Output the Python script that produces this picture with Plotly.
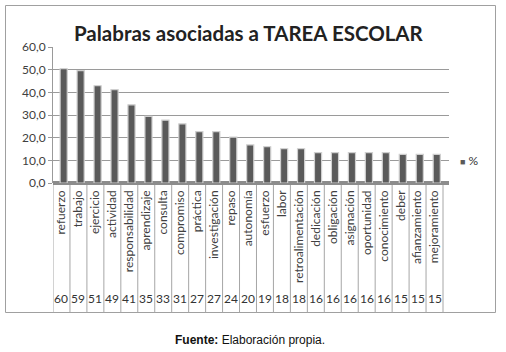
import plotly.graph_objects as go

categories = ["refuerzo", "trabajo", "ejercicio", "actividad", "responsabilidad",
              "aprendizaje", "consulta", "compromiso", "práctica", "investigación",
              "repaso", "autonomía", "esfuerzo", "labor", "retroalimentación",
              "dedicación", "obligación", "asignación", "oportunidad", "conocimiento",
              "deber", "afianzamiento", "mejoramiento"]
percent = [50.4, 49.6, 42.9, 41.2, 34.5, 29.4, 27.7, 26.1, 22.7, 22.7, 20.2, 16.8,
           16.0, 15.1, 15.1, 13.4, 13.4, 13.4, 13.4, 13.4, 12.6, 12.6, 12.6]
counts = [60, 59, 51, 49, 41, 35, 33, 31, 27, 27, 24, 20, 19, 18, 18, 16, 16, 16,
          16, 16, 15, 15, 15]
y_ticks = [0, 10, 20, 30, 40, 50, 60]

W, H = 506, 352
L, R, T, B = 53, 449, 47, 183  # plot area in px
n = len(categories)
x_end = -0.5 + (R - L) / ((443 - L) / n)


def px(x):
    return (x - L) / (R - L)


def py(y):
    return (B - y) / (B - T)


fig = go.Figure()
fig.add_trace(go.Bar(
    x=list(range(n)), y=percent, name="%",
    marker=dict(color="#5a5a5a", line=dict(color="#cfcfcf", width=1.2)),
    width=0.42, offset=-0.08, showlegend=False, hoverinfo="skip",
))

shapes = []
# outer border
shapes.append(dict(type="rect", xref="paper", yref="paper",
                   x0=px(5.5), x1=px(495.5), y0=py(312.5), y1=py(5.5),
                   line=dict(color="#a0a0a0", width=1), layer="above"))
# floor
shapes.append(dict(type="rect", xref="paper", yref="paper",
                   x0=0, x1=1, y0=py(185), y1=py(181),
                   fillcolor="#8c8c8c", line=dict(width=0), layer="below"))
# table vertical lines
for i in range(n + 1):
    shapes.append(dict(type="line", xref="x", yref="paper",
                       x0=i - 0.5, x1=i - 0.5, y0=py(185), y1=py(312.5),
                       line=dict(color="#a6a6a6", width=1)))

annotations = []
for i, c in enumerate(counts):
    annotations.append(dict(x=i, y=py(298), xref="x", yref="paper", text=str(c),
                            xanchor="center", yanchor="middle",
                            showarrow=False, font=dict(size=12, color="#333333",
                                                       family="Lato")))
annotations.append(dict(x=px(249), y=py(33), xref="paper", yref="paper",
                        xanchor="center", yanchor="middle",
                        text="<b>Palabras asociadas a TAREA ESCOLAR</b>",
                        showarrow=False, font=dict(size=20.5, color="#222222",
                                                   family="Lato")))
annotations.append(dict(x=px(458), y=py(160), xref="paper", yref="paper",
                        xanchor="left", yanchor="middle",
                        text="<span style='color:#5a5a5a;font-size:9px'>■</span> %",
                        showarrow=False, font=dict(size=12, color="#333333",
                                                   family="Lato")))
annotations.append(dict(x=px(250), y=py(340), xref="paper", yref="paper",
                        xanchor="center", yanchor="middle",
                        text="<b>Fuente:</b> Elaboración propia.",
                        showarrow=False, font=dict(size=12, color="#111111",
                                                   family="Liberation Sans Narrow, Arial")))

fig.update_layout(
    width=W, height=H,
    margin=dict(l=L, r=W - R, t=T, b=H - B, pad=0),
    paper_bgcolor="white", plot_bgcolor="white",
    separators=",.",
    bargap=0,
    hovermode=False,
    xaxis=dict(range=[-0.5, x_end], tickmode="array", tickvals=list(range(n)),
               ticktext=categories, tickangle=-90, showgrid=False, zeroline=False,
               showline=False, ticks="", automargin=False, ticklabelstandoff=4,
               tickfont=dict(size=12, color="#404040", family="Lato")),
    yaxis=dict(range=[0, 60], tickvals=y_ticks, tickformat=".1f", showgrid=True,
               gridcolor="#9a9a9a", gridwidth=1, zeroline=False, showline=True,
               linecolor="#9a9a9a", ticks="outside", ticklen=4, tickcolor="#9a9a9a",
               automargin=False,
               tickfont=dict(size=12, color="#404040", family="Lato")),
    shapes=shapes, annotations=annotations,
)

fig.write_html("out.html", config={"displayModeBar": False, "staticPlot": True},
               post_script="document.body.style.margin='0';")
